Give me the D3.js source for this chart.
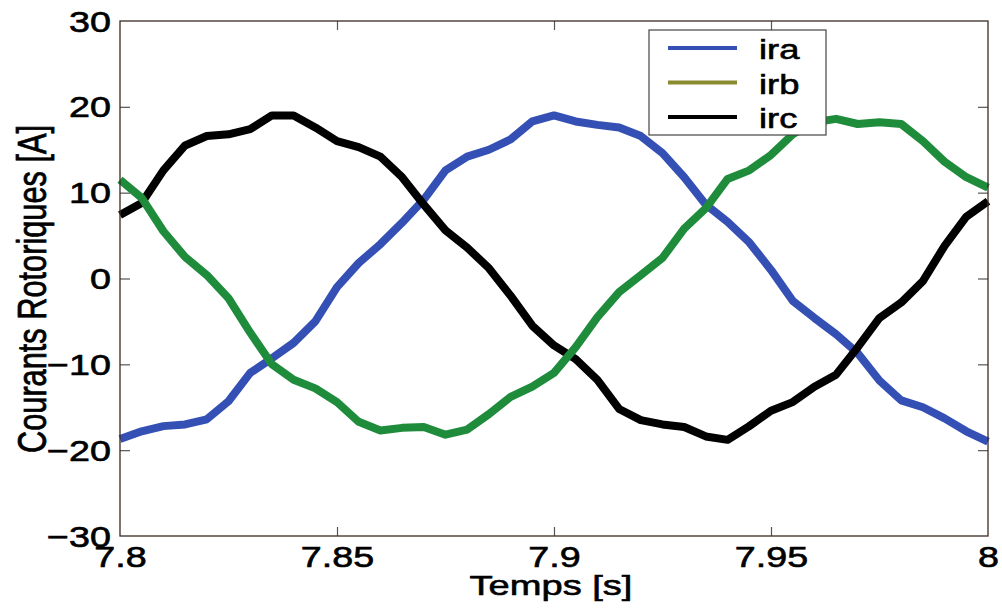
<!DOCTYPE html>
<html><head><meta charset="utf-8">
<script src="https://cdn.jsdelivr.net/npm/d3@7"></script>
<style>body{margin:0;background:#fff}text{font-family:"Liberation Sans",Arial,sans-serif;fill:#000;stroke:#000;stroke-width:0.6px}</style>
</head><body>
<svg id="c" width="1002" height="610"></svg>
<script>
const time = [7.800,7.805,7.810,7.815,7.820,7.825,7.830,7.835,7.840,7.845,
  7.850,7.855,7.860,7.865,7.870,7.875,7.880,7.885,7.890,7.895,
  7.900,7.905,7.910,7.915,7.920,7.925,7.930,7.935,7.940,7.945,
  7.950,7.955,7.960,7.965,7.970,7.975,7.980,7.985,7.990,7.995,8.000];
const ira = [-18.7,-17.8,-17.2,-17.0,-16.4,-14.3,-11.0,-9.3,-7.5,-5.0,
  -1.0,1.8,4.0,6.5,9.2,12.6,14.2,15.0,16.2,18.3,
  19.0,18.3,17.9,17.6,16.6,14.6,11.8,8.6,6.6,4.2,
  1.0,-2.6,-4.6,-6.5,-8.7,-11.9,-14.2,-15.0,-16.3,-17.8,-19.0];
const irb = [11.5,9.4,5.5,2.5,0.4,-2.3,-6.3,-10.0,-11.8,-12.8,
  -14.4,-16.7,-17.7,-17.4,-17.3,-18.2,-17.6,-15.8,-13.8,-12.6,
  -11.0,-8.0,-4.5,-1.6,0.4,2.4,5.8,8.2,11.6,12.6,
  14.4,16.8,18.2,18.6,18.0,18.2,18.0,16.0,13.6,11.8,10.6];
const irc = [7.4,8.8,12.6,15.5,16.6,16.8,17.4,19.0,19.0,17.6,
  16.0,15.3,14.2,11.8,8.6,5.6,3.6,1.2,-2.0,-5.5,
  -7.8,-9.4,-11.8,-15.2,-16.5,-17.0,-17.3,-18.4,-18.8,-17.2,
  -15.4,-14.4,-12.6,-11.2,-8.0,-4.6,-2.8,-0.3,3.8,7.2,9.0];
const seriesNames = ["ira","irb","irc"];
const xTicks = [7.8,7.85,7.9,7.95,8];
const yTicks = [-30,-20,-10,0,10,20,30];
const xLabel = "Temps [s]";
const yLabel = "Courants Rotoriques [A]";

const lineColors = {ira:"#3450b4", irb:"#1f8c3c", irc:"#000000"};
const legendColors = {ira:"#3450b4", irb:"#8a8a2e", irc:"#000000"};
const series = {ira, irb, irc};
const SX = 1.3; // horizontal glyph stretch of the original figure

const svg = d3.select("#c");
const L=120, R=988, T=21, B=536;
const x = d3.scaleLinear().domain([7.8,8]).range([L,R]);
const y = d3.scaleLinear().domain([-30,30]).range([B,T]);

// lines
const line = d3.line().x((d,i)=>x(time[i])).y(d=>y(d));
["ira","irc","irb"].forEach(k=>{
  svg.append("path").datum(series[k]).attr("d",line)
    .attr("fill","none").attr("stroke",lineColors[k])
    .attr("stroke-width",8).attr("stroke-linejoin","round");
});

// axes (ticks inward)
const tickCol = "#555";
function styleAxis(g){ g.select(".domain").remove(); g.selectAll(".tick line").attr("stroke",tickCol).attr("stroke-width",1.2); }
const xb = svg.append("g").attr("transform",`translate(0,${B})`)
  .call(d3.axisBottom(x).tickValues(xTicks).tickSizeInner(-9).tickSizeOuter(0).tickFormat(d=>d3.format("")(+d.toFixed(2))));
styleAxis(xb);
xb.selectAll(".tick text").attr("x",null).attr("y",null).attr("dy",null)
  .attr("transform",`translate(0,31) scale(${SX},1)`).attr("font-size",29).attr("text-anchor","middle").attr("fill","#000");
xb.selectAll(".tick").filter(d=>d===7.8||d===8).select("line").remove();

const xt = svg.append("g").attr("transform",`translate(0,${T})`)
  .call(d3.axisTop(x).tickValues(xTicks).tickSizeInner(-9).tickSizeOuter(0).tickFormat(""));
styleAxis(xt);
xt.selectAll(".tick").filter(d=>d===7.8||d===8).select("line").remove();

const yl = svg.append("g").attr("transform",`translate(${L},0)`)
  .call(d3.axisLeft(y).tickValues(yTicks).tickSizeInner(-10).tickSizeOuter(0));
styleAxis(yl);
yl.selectAll(".tick text").attr("x",null).attr("dy",null)
  .attr("transform",`translate(-9,10) scale(${SX},1)`).attr("font-size",29).attr("text-anchor","end").attr("fill","#000");
yl.selectAll(".tick").filter(d=>d===-30||d===30).select("line").remove();

const yr = svg.append("g").attr("transform",`translate(${R},0)`)
  .call(d3.axisRight(y).tickValues(yTicks).tickSizeInner(-10).tickSizeOuter(0).tickFormat(""));
styleAxis(yr);
yr.selectAll(".tick").filter(d=>d===-30||d===30).select("line").remove();

// frame
svg.append("rect").attr("x",L).attr("y",T).attr("width",R-L).attr("height",B-T)
  .attr("fill","none").attr("stroke","#3a2c24").attr("stroke-width",1.3);

// axis labels
svg.append("text").attr("font-size",28).attr("text-anchor","middle")
  .attr("transform",`translate(551,595) scale(1.36,1)`).text(xLabel);
svg.append("text").attr("font-size",31).attr("text-anchor","middle")
  .attr("transform",`translate(46,289) rotate(-90) scale(1,${SX})`)
  .attr("textLength",328).attr("lengthAdjust","spacingAndGlyphs").text(yLabel);

// legend
const lg = svg.append("g");
lg.append("rect").attr("x",649).attr("y",30).attr("width",177).attr("height",105)
  .attr("fill","#fff").attr("stroke","#444").attr("stroke-width",1.2);
seriesNames.forEach((k,i)=>{
  const ly = 48 + i*34.5;
  lg.append("line").attr("x1",668).attr("x2",737).attr("y1",ly).attr("y2",ly)
    .attr("stroke",legendColors[k]).attr("stroke-width",4);
  lg.append("text").attr("font-size",28)
    .attr("transform",`translate(759,${ly+11}) scale(${SX},1)`).text(k);
});
</script>
</body></html>
